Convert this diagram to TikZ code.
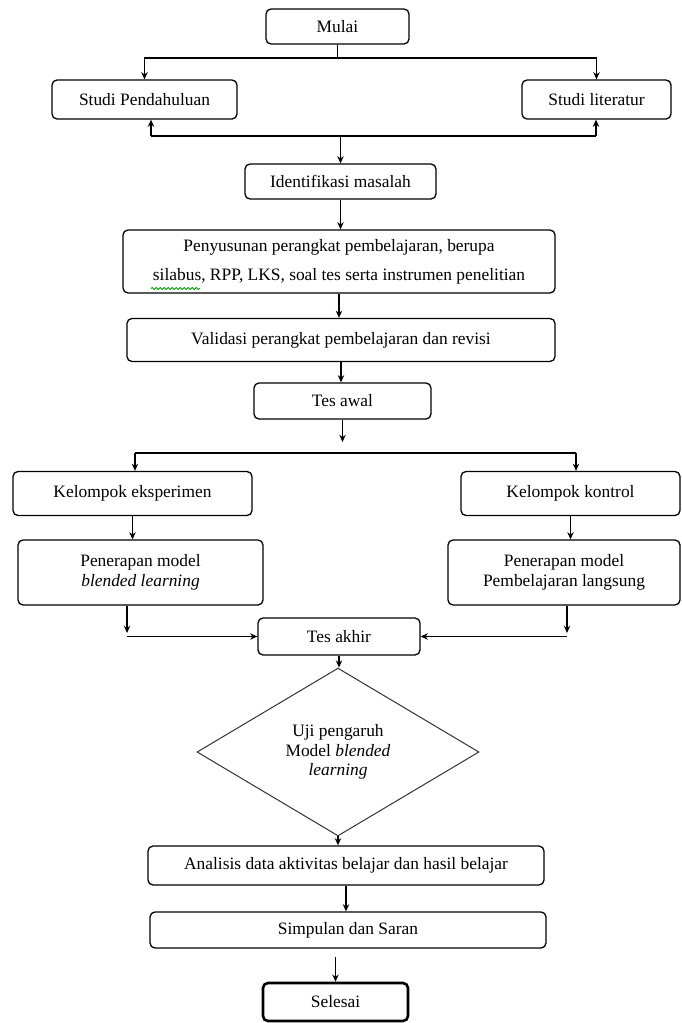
\documentclass[tikz,border=0pt]{standalone}
\usepackage{fontspec}
\setmainfont{Liberation Serif}
\usetikzlibrary{arrows.meta,positioning,shapes.geometric,decorations.pathmorphing}
\tikzset{
  pbox/.style={draw, rounded corners=2.5pt, line width=0.65pt, align=center,
               font=\fontsize{8.7}{10}\selectfont, inner sep=2pt},
  tbox/.style={pbox, line width=1.3pt},
  dbox/.style={draw=black!80, diamond, line width=0.5pt, align=center,
               font=\fontsize{8.7}{9.8}\selectfont, inner sep=1pt},
  arr/.style={-{Stealth[length=3.6pt,width=3.2pt]}, line width=0.65pt},
  lin/.style={line width=0.65pt},
  squiggle/.style={green!60!black, line width=0.4pt, decorate,
                   decoration={snake, amplitude=0.5pt, segment length=2pt}},
}

\begin{document}
\begin{tikzpicture}[x=0.5pt, y=-0.5pt]
\useasboundingbox (0,0) rectangle (681,1023);

% --- Start and preliminary studies ---
\node[pbox, minimum width=71.5pt, minimum height=17.5pt] (mulai) at (337.5,26.5) {Mulai};
\node[pbox, minimum width=92.5pt, minimum height=19.5pt] (studi1) at (144.5,99.5) {Studi Pendahuluan};
\node[pbox, minimum width=74.5pt, minimum height=19.5pt] (studi2) at (596.5,99.5) {Studi literatur};
\node[pbox, minimum width=95.5pt, minimum height=17.5pt] (ident) at (340.5,181.5) {Identifikasi masalah};

\coordinate (split1) at (337.5,58);
\coordinate (joinL) at (151,136);
\coordinate (joinR) at (596,136);
\draw[lin] (mulai.south) -- (split1);
\draw[arr] (split1) -| (studi1.north);
\draw[arr] (split1) -| (studi2.north);
\draw[lin] (joinL) -- (joinR);
\draw[arr] (joinL) -- (joinL |- studi1.south);
\draw[arr] (joinR) -- (joinR |- studi2.south);
\draw[arr] (ident.north |- joinL) -- (ident.north);

% --- Preparation ---
\node[pbox, minimum width=216pt, minimum height=31.5pt, font=\fontsize{8.7}{14.5}\selectfont] (susun) at (339,261.5)
      {Penyusunan perangkat pembelajaran, berupa\\ silabus, RPP, LKS, soal tes serta instrumen penelitian};
\node[pbox, minimum width=214pt, minimum height=21.5pt] (valid) at (341,340) {Validasi perangkat pembelajaran dan revisi};
\node[pbox, minimum width=88.5pt, minimum height=18pt] (tesawal) at (342.5,401) {Tes awal};

% spell-check wave under "silabus"
\coordinate (wave) at (151,288.5);
\draw[squiggle] (wave) -- ++(49,0);

\draw[arr] (ident.south) -- (ident.south |- susun.north);
\draw[arr] (susun.south) -- (susun.south |- valid.north);
\draw[arr] (valid.south) -- (valid.south |- tesawal.north);

% --- Two groups ---
\node[pbox, minimum width=119.5pt, minimum height=22pt] (kelE) at (132.5,493.5) {Kelompok eksperimen};
\node[pbox, minimum width=109.5pt, minimum height=22pt] (kelK) at (570.5,493.5) {Kelompok kontrol};
\node[pbox, minimum width=122.5pt, minimum height=32.5pt] (penE) at (140.5,572.5)
      {Penerapan model\\ \textit{blended learning}};
\node[pbox, minimum width=116pt, minimum height=32.5pt] (penK) at (564,572.5)
      {Penerapan model\\ Pembelajaran langsung};
\node[pbox, minimum width=81pt, minimum height=18.5pt] (tesakhir) at (339,636.5) {Tes akhir};

\coordinate (split2) at (341,442);
\coordinate (grpL) at (135,453);
\coordinate (grpR) at (576,453);
\coordinate (outL) at (127,633);
\coordinate (outR) at (567,633);
\draw[arr] (tesawal.south) -- (tesawal.south |- split2);
\draw[lin] (grpL) -- (grpR);
\draw[arr] (grpL) -- (grpL |- kelE.north);
\draw[arr] (grpR) -- (grpR |- kelK.north);
\draw[arr] (kelE.south) -- (kelE.south |- penE.north);
\draw[arr] (kelK.south) -- (kelK.south |- penK.north);
\draw[arr] (outL |- penE.south) -- (outL);
\draw[arr] (outR |- penK.south) -- (outR);
\draw[arr] (outL |- tesakhir.west) -- (tesakhir.west);
\draw[arr] (outR |- tesakhir.east) -- (tesakhir.east);

% --- Test and conclusion ---
\node[dbox, minimum width=141pt, minimum height=65pt] (uji) at (338,752)
      {Uji pengaruh\\ Model \textit{blended}\\ \textit{learning}};
\node[pbox, minimum width=198pt, minimum height=19.5pt] (analisis) at (346,865.5)
      {Analisis data aktivitas belajar dan hasil belajar};
\node[pbox, minimum width=198pt, minimum height=18pt] (simpulan) at (348,930) {Simpulan dan Saran};
\node[tbox, minimum width=72.5pt, minimum height=19pt] (selesai) at (335.5,1002) {Selesai};

\draw[arr] (tesakhir.south) -- (tesakhir.south |- uji.north);
\draw[arr] (uji.south) -- (uji.south |- analisis.north);
\draw[arr] (analisis.south) -- (analisis.south |- simpulan.north);
\draw[arr] (selesai.north |- simpulan.south) ++(0,8) -- (selesai.north);

\end{tikzpicture}
\end{document}
